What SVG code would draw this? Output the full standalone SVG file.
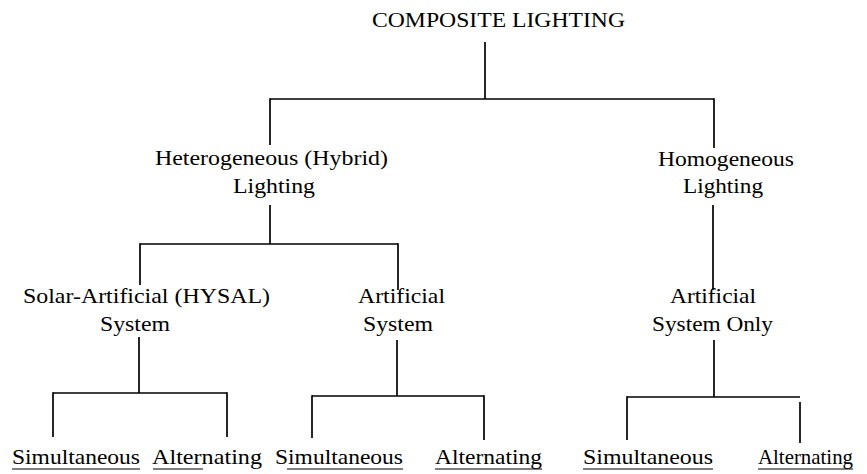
<svg xmlns="http://www.w3.org/2000/svg" width="867" height="474" viewBox="0 0 867 474">
<style>
text{font-family:"Liberation Serif","Times New Roman",serif;font-size:22px;fill:#000}
.c line{stroke:#000;stroke-width:1.7;fill:none}
.u{stroke:#000;stroke-width:1.2}
</style>
<rect width="867" height="474" fill="#fff"/>
<g class="c" id="connectors">
<line x1="485" y1="42" x2="485" y2="99"/>
<line x1="270" y1="99" x2="714" y2="99"/>
<line x1="270" y1="98.2" x2="270" y2="145"/>
<line x1="714" y1="98.2" x2="714" y2="148"/>
<line x1="270" y1="205" x2="270" y2="244"/>
<line x1="140" y1="244" x2="398" y2="244"/>
<line x1="140" y1="243.2" x2="140" y2="285"/>
<line x1="398" y1="243.2" x2="398" y2="290"/>
<line x1="713" y1="205" x2="713" y2="290"/>
<line x1="139" y1="337" x2="139" y2="393"/>
<line x1="53" y1="393" x2="227" y2="393"/>
<line x1="53" y1="392.2" x2="53" y2="437"/>
<line x1="227" y1="392.2" x2="227" y2="437"/>
<line x1="397" y1="340" x2="397" y2="396"/>
<line x1="312" y1="396" x2="484" y2="396"/>
<line x1="312" y1="395.2" x2="312" y2="438"/>
<line x1="484" y1="395.2" x2="484" y2="440"/>
<line x1="714" y1="340" x2="714" y2="397"/>
<line x1="627" y1="397" x2="800" y2="397"/>
<line x1="627" y1="396.2" x2="627" y2="440"/>
<line x1="800" y1="402" x2="800" y2="443"/>
</g>
<g id="n-composite"><text x="372" y="27" textLength="253" lengthAdjust="spacingAndGlyphs">COMPOSITE LIGHTING</text></g>
<g id="n-hetero">
<text x="155" y="165" textLength="233" lengthAdjust="spacingAndGlyphs">Heterogeneous (Hybrid)</text>
<text x="233" y="193" textLength="82" lengthAdjust="spacingAndGlyphs">Lighting</text>
</g>
<g id="n-homo">
<text x="658" y="166" textLength="136" lengthAdjust="spacingAndGlyphs">Homogeneous</text>
<text x="683" y="193" textLength="80" lengthAdjust="spacingAndGlyphs">Lighting</text>
</g>
<g id="n-hysal">
<text x="23" y="303" textLength="247" lengthAdjust="spacingAndGlyphs">Solar-Artificial (HYSAL)</text>
<text x="100" y="331" textLength="70" lengthAdjust="spacingAndGlyphs">System</text>
</g>
<g id="n-artificial">
<text x="358" y="303" textLength="87" lengthAdjust="spacingAndGlyphs">Artificial</text>
<text x="363" y="331" textLength="70" lengthAdjust="spacingAndGlyphs">System</text>
</g>
<g id="n-artificial-only">
<text x="670" y="303" textLength="86" lengthAdjust="spacingAndGlyphs">Artificial</text>
<text x="652" y="331" textLength="121" lengthAdjust="spacingAndGlyphs">System Only</text>
</g>
<g id="n-sim1"><text x="12" y="464" textLength="128" lengthAdjust="spacingAndGlyphs">Simultaneous</text><line class="u" x1="12" y1="469" x2="140" y2="469"/></g>
<g id="n-alt1"><text x="152" y="464" textLength="110" lengthAdjust="spacingAndGlyphs">Alternating</text><line class="u" x1="153" y1="469" x2="203" y2="469"/></g>
<g id="n-sim2"><text x="275" y="464" textLength="128" lengthAdjust="spacingAndGlyphs">Simultaneous</text><line class="u" x1="287" y1="469" x2="403" y2="469"/></g>
<g id="n-alt2"><text x="435" y="464" textLength="107" lengthAdjust="spacingAndGlyphs">Alternating</text><line class="u" x1="435" y1="469" x2="542" y2="469"/></g>
<g id="n-sim3"><text x="583" y="464" textLength="130" lengthAdjust="spacingAndGlyphs">Simultaneous</text><line class="u" x1="583" y1="469" x2="713" y2="469"/></g>
<g id="n-alt3"><text x="758" y="464" textLength="95" lengthAdjust="spacingAndGlyphs">Alternating</text><line class="u" x1="758" y1="469" x2="853" y2="469"/></g>
</svg>
